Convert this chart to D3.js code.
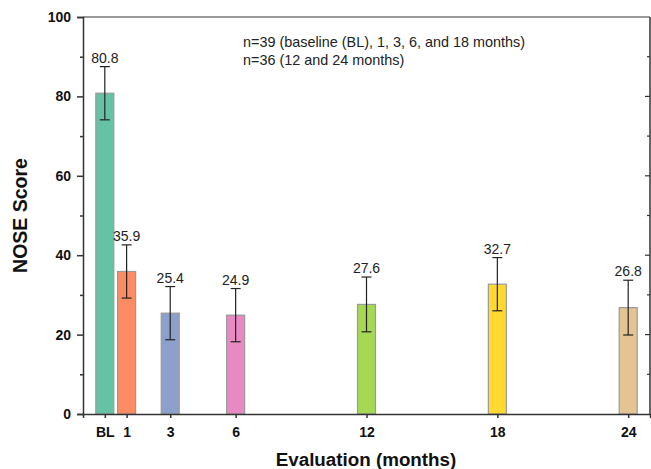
<!DOCTYPE html>
<html>
<head>
<meta charset="utf-8" />
<title>NOSE Score</title>
<script src="https://cdn.jsdelivr.net/npm/d3@7"></script>
<style>
body { margin: 0; background: #fff; }
text { font-family: "Liberation Sans", Arial, sans-serif; }
</style>
</head>
<body>
<div id="chart"></div>
<script>
// evaluation points (months), BL = 0
const months = [0, 1, 3, 6, 12, 18, 24];
const tickLabels = ["BL", "1", "3", "6", "12", "18", "24"];
const scores = [80.8, 35.9, 25.4, 24.9, 27.6, 32.7, 26.8];
const errors = [6.7, 6.7, 6.7, 6.7, 6.9, 6.7, 6.9];
const colors = ["#66c2a5", "#fc8d62", "#8da0cb", "#e78ac3", "#a6d854", "#ffd92f", "#e5c494"];
const yTicks = [0, 20, 40, 60, 80, 100];
const notes = ["n=39 (baseline (BL), 1, 3, 6, and 18 months)", "n=36 (12 and 24 months)"];

const width = 651, height = 469;
const margin = {top: 17, right: 1, bottom: 55, left: 83};

const svg = d3.select("#chart").append("svg")
	.attr("width", width)
	.attr("height", height);

const x = d3.scaleLinear().domain([-1, 25]).range([margin.left, width - margin.right]);
const y = d3.scaleLinear().domain([0, 100]).range([height - margin.bottom, margin.top]);
const barW = 18;

// frame: top + right
svg.append("line")
	.attr("x1", margin.left).attr("x2", width - margin.right)
	.attr("y1", y(100)).attr("y2", y(100))
	.attr("stroke", "#777").attr("stroke-width", 1.5);
svg.append("line")
	.attr("x1", x(25)).attr("x2", x(25))
	.attr("y1", y(100)).attr("y2", y(0))
	.attr("stroke", "#333").attr("stroke-width", 1.5);

// right side inward ticks
svg.append("g").selectAll("line")
	.data(d3.range(10, 100, 10))
	.join("line")
	.attr("x1", d => x(25) - (d % 20 === 0 ? 5 : 3)).attr("x2", x(25))
	.attr("y1", d => y(d)).attr("y2", d => y(d))
	.attr("stroke", "#333").attr("stroke-width", 1.2);

// bars
svg.append("g").selectAll("rect")
	.data(scores)
	.join("rect")
	.attr("x", (d, i) => x(months[i]) - barW / 2)
	.attr("y", d => y(d))
	.attr("width", barW)
	.attr("height", d => y(0) - y(d))
	.attr("fill", (d, i) => colors[i])
	.attr("stroke", "#9a9a9a")
	.attr("stroke-width", 1.2);

// error bars
const eb = svg.append("g").attr("stroke", "#222").attr("stroke-width", 1.2);
scores.forEach(function(d, i) {
	const cx = x(months[i]);
	eb.append("line").attr("x1", cx).attr("x2", cx).attr("y1", y(d + errors[i])).attr("y2", y(d - errors[i]));
	eb.append("line").attr("x1", cx - 5).attr("x2", cx + 5).attr("y1", y(d + errors[i])).attr("y2", y(d + errors[i]));
	eb.append("line").attr("x1", cx - 5).attr("x2", cx + 5).attr("y1", y(d - errors[i])).attr("y2", y(d - errors[i]));
});

// value labels
svg.append("g").selectAll("text")
	.data(scores)
	.join("text")
	.attr("x", (d, i) => x(months[i]))
	.attr("y", (d, i) => y(d + errors[i]) - 4)
	.attr("text-anchor", "middle")
	.attr("font-size", 14)
	.attr("fill", "#222")
	.text(d => d.toFixed(1));

// y axis
const yAxis = svg.append("g")
	.attr("transform", "translate(" + margin.left + ",0)")
	.call(d3.axisLeft(y).tickValues(yTicks).tickSize(6).tickPadding(6));
yAxis.selectAll(".tick text").attr("font-size", 14).attr("font-weight", "bold").attr("fill", "#111")
	.style("font-family", "'Liberation Sans', Arial, sans-serif");
svg.append("g")
	.attr("transform", "translate(" + margin.left + ",0)")
	.call(d3.axisLeft(y).tickValues(d3.range(10, 100, 20)).tickSize(3).tickFormat(""))
	.call(g => g.select(".domain").remove());

// x axis
const xAxis = svg.append("g")
	.attr("transform", "translate(0," + y(0) + ")")
	.call(d3.axisBottom(x).tickValues(months).tickFormat((d, i) => tickLabels[i]).tickSize(4).tickPadding(9));
xAxis.selectAll(".tick text").attr("font-size", 14).attr("font-weight", "bold").attr("fill", "#111")
	.style("font-family", "'Liberation Sans', Arial, sans-serif");

svg.selectAll(".domain, .tick line").attr("stroke", "#333").attr("stroke-width", 1.5);

// axis titles
svg.append("text")
	.attr("x", 366)
	.attr("y", 466)
	.attr("text-anchor", "middle")
	.attr("font-size", 18.8)
	.attr("font-weight", "bold")
	.attr("fill", "#111")
	.text("Evaluation (months)");
svg.append("text")
	.attr("transform", "translate(27," + y(50) + ") rotate(-90)")
	.attr("text-anchor", "middle")
	.attr("font-size", 19.5)
	.attr("font-weight", "bold")
	.attr("fill", "#111")
	.text("NOSE Score");

// sample size notes
svg.append("g").selectAll("text")
	.data(notes)
	.join("text")
	.attr("x", 243)
	.attr("y", (d, i) => 47 + i * 18)
	.attr("font-size", 14.4)
	.attr("fill", "#222")
	.text(d => d);
</script>
</body>
</html>
